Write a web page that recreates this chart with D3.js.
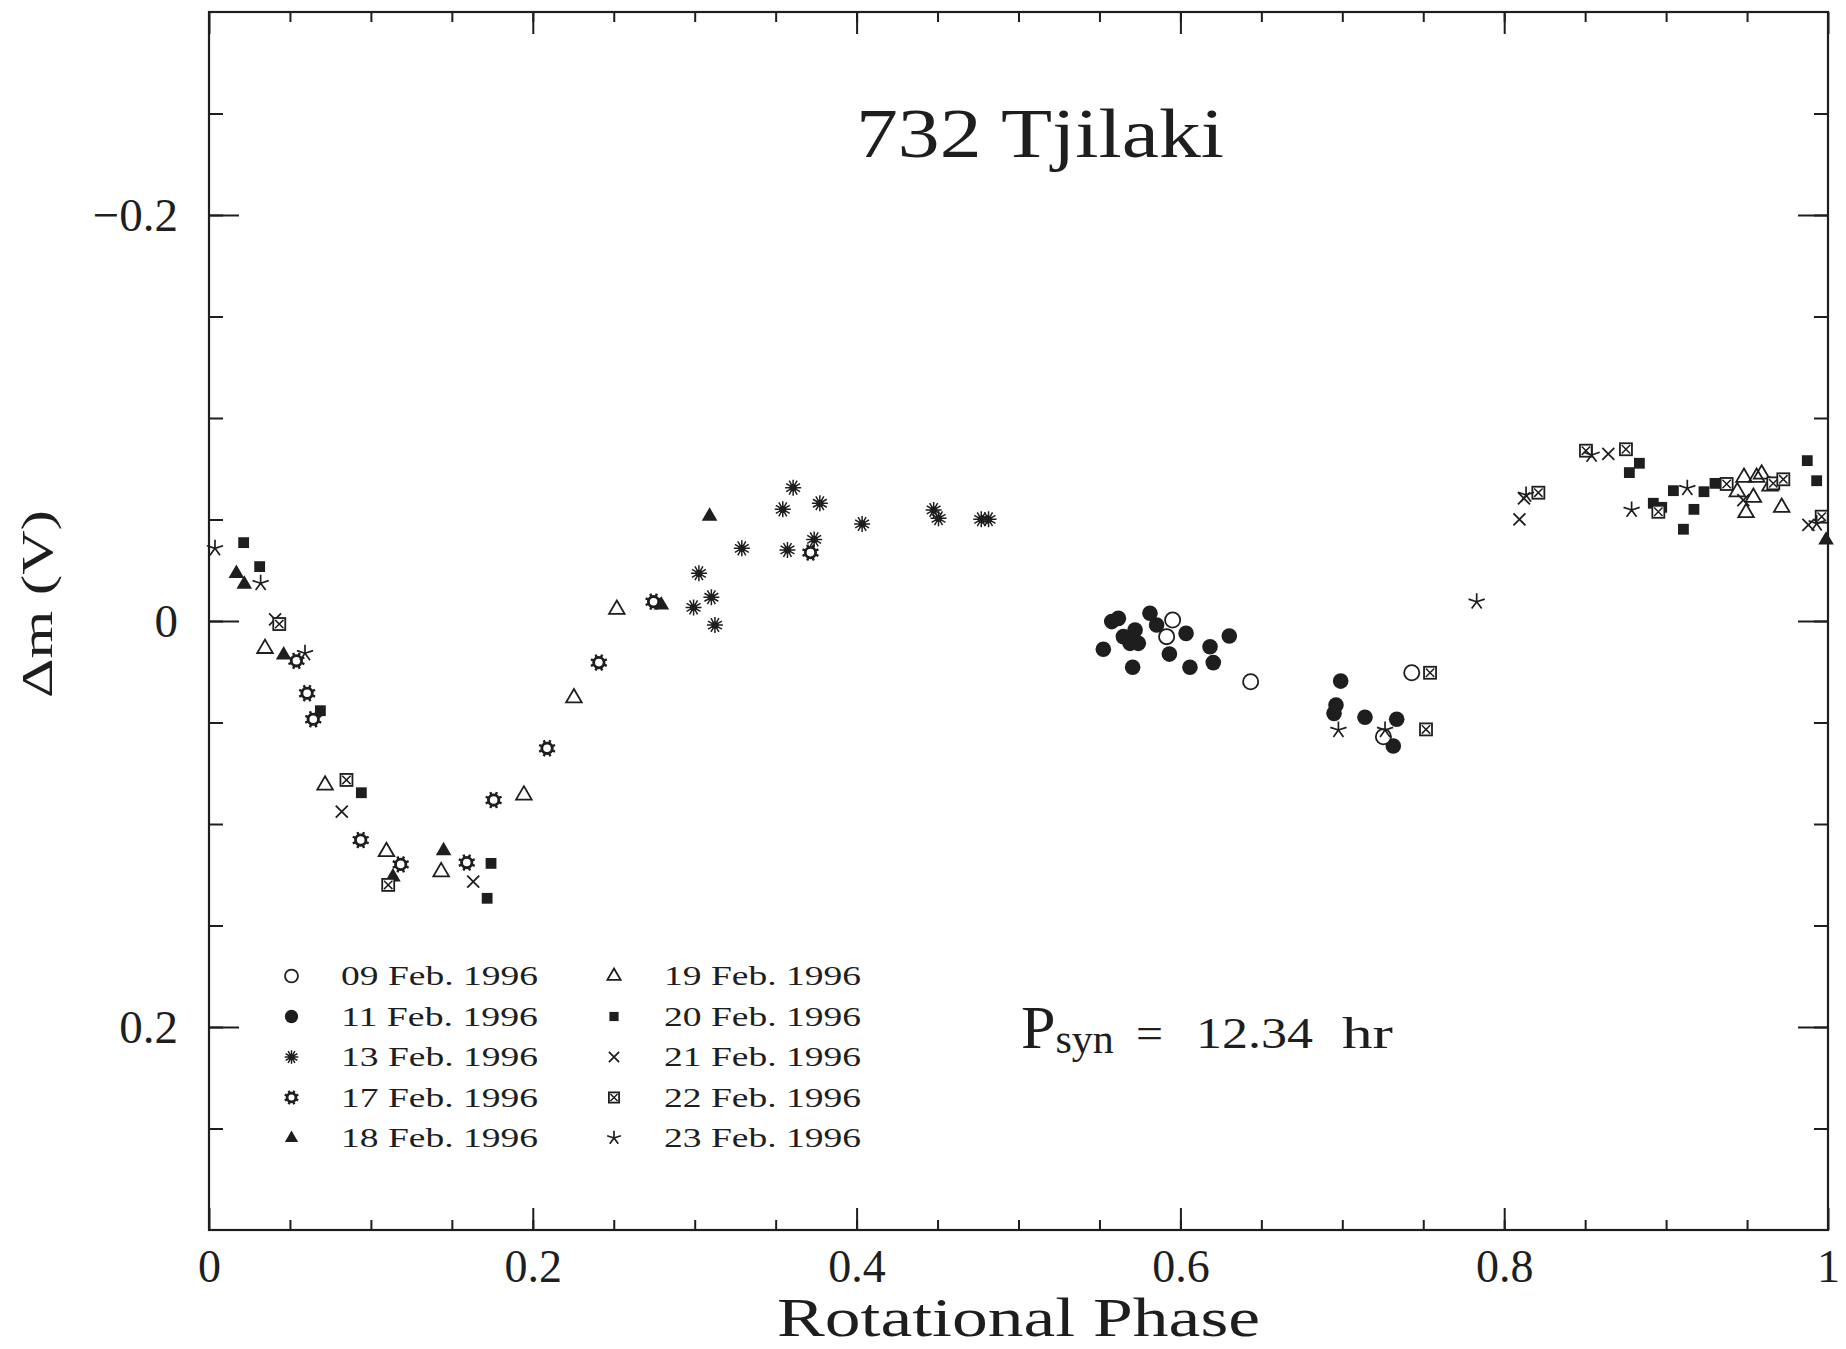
<!DOCTYPE html>
<html>
<head>
<meta charset="utf-8">
<script src="https://cdn.jsdelivr.net/npm/d3@7"></script>
<style>
  html, body { margin: 0; padding: 0; background: #fff; }
  svg { display: block; }
</style>
</head>
<body>
<svg id="chart" width="1846" height="1349"></svg>
<script>
// Lightcurve of asteroid 732 Tjilaki: [rotational phase, delta magnitude (V)] per night
const feb09 = [[0.5952,-0.0005],[0.5915,0.0077],[0.6434,0.0299],[0.7429,0.0255],[0.7254,0.0570]];
const feb11 = [[0.5576,0.0003],[0.5617,-0.0013],[0.5524,0.0139],[0.5648,0.0077],[0.5720,0.0044],
  [0.5689,0.0110],[0.5740,0.0110],[0.5705,0.0228],[0.5812,-0.0038],[0.5853,0.0020],[0.5932,0.0163],
  [0.6035,0.0061],[0.6059,0.0228],[0.6183,0.0127],[0.6203,0.0205],[0.6302,0.0074],[0.6990,0.0296],
  [0.6961,0.0414],[0.6949,0.0455],[0.7140,0.0474],[0.7336,0.0484],[0.7315,0.0616]];
const feb13 = [[0.3291,-0.0358],[0.3026,-0.0235],[0.3103,-0.0117],[0.2993,-0.0067],[0.3125,0.0020],
  [0.3608,-0.0657],[0.3544,-0.0550],[0.3773,-0.0580],[0.4034,-0.0478],[0.4476,-0.0547],[0.4506,-0.0506],
  [0.4770,-0.0501],[0.4815,-0.0501],[0.3573,-0.0350],[0.3738,-0.0402]];
const feb17 = [[0.0540,0.0196],[0.0606,0.0356],[0.0644,0.0484],[0.0937,0.1079],[0.1184,0.1199],
  [0.1592,0.1190],[0.1758,0.0882],[0.2088,0.0627],[0.2408,0.0205],[0.2746,-0.0095],[0.3715,-0.0337]];
const feb18 = [[0.0169,-0.0235],[0.0218,-0.0182],[0.0461,0.0167],[0.1136,0.1260],[0.1449,0.1131],
  [0.2794,-0.0079],[0.3092,-0.0517],[0.9988,-0.0399]];
const feb19 = [[0.0346,0.0135],[0.0717,0.0808],[0.1096,0.1136],[0.1434,0.1235],[0.1945,0.0857],
  [0.2254,0.0378],[0.2519,-0.0058],[0.9481,-0.0708],[0.9590,-0.0724],[0.9559,-0.0708],[0.9440,-0.0637],
  [0.9539,-0.0609],[0.9494,-0.0534],[0.9642,-0.0665],[0.9714,-0.0560]];
const feb20 = [[0.0214,-0.0386],[0.0313,-0.0268],[0.0688,0.0442],[0.0941,0.0846],[0.1742,0.1194],
  [0.1718,0.1366],[0.8835,-0.0777],[0.8773,-0.0731],[0.8921,-0.0580],[0.8973,-0.0560],[0.9045,-0.0642],
  [0.9172,-0.0550],[0.9107,-0.0452],[0.9234,-0.0637],[0.9302,-0.0678],[0.9872,-0.0790],[0.9930,-0.0691]];
const feb21 = [[0.0408,-0.0008],[0.0820,0.0939],[0.1632,0.1284],[0.8094,-0.0501],[0.8122,-0.0604],
  [0.8643,-0.0823],[0.9477,-0.0596],[0.9879,-0.0473]];
const feb22 = [[0.0434,0.0015],[0.0849,0.0783],[0.1107,0.1300],[0.7542,0.0255],[0.7517,0.0534],
  [0.8211,-0.0632],[0.8505,-0.0839],[0.8752,-0.0846],[0.8952,-0.0538],[0.9374,-0.0675],[0.9662,-0.0678],
  [0.9724,-0.0698],[0.9961,-0.0514]];
const feb23 = [[0.0037,-0.0358],[0.0319,-0.0186],[0.0593,0.0159],[0.6976,0.0537],[0.7264,0.0537],
  [0.7830,-0.0095],[0.8135,-0.0621],[0.8540,-0.0818],[0.8787,-0.0547],[0.9131,-0.0654],[0.9930,-0.0480]];

const nightLabels = ["09 Feb. 1996","11 Feb. 1996","13 Feb. 1996","17 Feb. 1996","18 Feb. 1996",
                     "19 Feb. 1996","20 Feb. 1996","21 Feb. 1996","22 Feb. 1996","23 Feb. 1996"];
const xMajorTicks = [0, 0.2, 0.4, 0.6, 0.8, 1];
const xTickLabels = ["0", "0.2", "0.4", "0.6", "0.8", "1"];
const yMajorTicks = [-0.2, 0, 0.2];
const yTickLabels = ["\u22120.2", "0", "0.2"];
const minorStep = 0.05;

const INK = "#1e1e1e";
const FONT = "'Liberation Serif', 'DejaVu Serif', serif";

const svg = d3.select("#chart");
svg.append("rect").attr("width", 1846).attr("height", 1349).attr("fill", "#fff");

const L = 209, R = 1828, T = 12, B = 1230;
const x = d3.scaleLinear().domain([0, 1]).range([L, R]);
const y = d3.scaleLinear().domain([-0.3, 0.3]).range([T, B]);

const xMinor = d3.range(1, 20).map(i => +(i * minorStep).toFixed(2));
const yMinor = d3.range(-5, 6).map(i => +(i * minorStep).toFixed(2));

function styleAxis(g) {
  g.select(".domain").remove();
  g.selectAll(".tick line").attr("stroke", INK).attr("stroke-width", 2);
  g.selectAll("text").attr("fill", INK).attr("font-family", FONT);
}

// minor ticks on all four sides
svg.append("g").attr("transform", `translate(0,${B})`)
  .call(d3.axisBottom(x).tickValues(xMinor).tickSize(-10).tickFormat("")).call(styleAxis);
svg.append("g").attr("transform", `translate(0,${T})`)
  .call(d3.axisTop(x).tickValues(xMinor).tickSize(-10).tickFormat("")).call(styleAxis);
svg.append("g").attr("transform", `translate(${L},0)`)
  .call(d3.axisLeft(y).tickValues(yMinor).tickSize(-14).tickFormat("")).call(styleAxis);
svg.append("g").attr("transform", `translate(${R},0)`)
  .call(d3.axisRight(y).tickValues(yMinor).tickSize(-14).tickFormat("")).call(styleAxis);

// major ticks with labels
svg.append("g").attr("transform", `translate(0,${B})`)
  .call(d3.axisBottom(x).tickValues(xMajorTicks).tickSize(-22).tickPadding(19)
    .tickFormat((d, i) => xTickLabels[i]))
  .call(styleAxis)
  .call(g => g.selectAll("text").attr("font-size", 46));
svg.append("g").attr("transform", `translate(0,${T})`)
  .call(d3.axisTop(x).tickValues(xMajorTicks).tickSize(-22).tickFormat("")).call(styleAxis);
svg.append("g").attr("transform", `translate(${L},0)`)
  .call(d3.axisLeft(y).tickValues(yMajorTicks).tickSize(-30).tickPadding(31)
    .tickFormat((d, i) => yTickLabels[i]))
  .call(styleAxis)
  .call(g => g.selectAll("text").attr("font-size", 47).attr("dy", "0.33em"));
svg.append("g").attr("transform", `translate(${R},0)`)
  .call(d3.axisRight(y).tickValues(yMajorTicks).tickSize(-30).tickFormat("")).call(styleAxis);

// frame
svg.append("rect").attr("x", L).attr("y", T).attr("width", R - L).attr("height", B - T)
  .attr("fill", "none").attr("stroke", INK).attr("stroke-width", 2.2);

// plotting symbols
function drawMark(g, kind, s) {
  const sw = 1.8;
  if (kind === "circleOpen") {
    g.append("circle").attr("r", 7.6 * s).attr("fill", "#fff").attr("stroke", INK).attr("stroke-width", sw);
  } else if (kind === "circleFilled") {
    g.append("circle").attr("r", 7.8 * s).attr("fill", INK);
  } else if (kind === "asterisk") {
    const n = 12, r = 8 * s;
    let p = "";
    for (let i = 0; i < n; i++) {
      const a = Math.PI * 2 * i / n;
      p += `M0,0L${(r * Math.cos(a)).toFixed(2)},${(r * Math.sin(a)).toFixed(2)}`;
    }
    g.append("path").attr("d", p).attr("stroke", INK).attr("stroke-width", 1.5);
    g.append("circle").attr("r", 3.6 * s).attr("fill", INK);
  } else if (kind === "sun") {
    const n = 8;
    let p = "";
    for (let i = 0; i < n; i++) {
      const a = Math.PI * 2 * i / n + Math.PI / 8;
      p += `M${(5.5 * s * Math.cos(a)).toFixed(2)},${(5.5 * s * Math.sin(a)).toFixed(2)}` +
           `L${(8.6 * s * Math.cos(a)).toFixed(2)},${(8.6 * s * Math.sin(a)).toFixed(2)}`;
    }
    g.append("path").attr("d", p).attr("stroke", INK).attr("stroke-width", 2.4);
    g.append("circle").attr("r", 5.2 * s).attr("fill", "#fff").attr("stroke", INK).attr("stroke-width", 2.8);
  } else if (kind === "triFilled" || kind === "triOpen") {
    const h = 8.8 * s, w = 7.8 * s, b = 4.6 * s;
    const path = g.append("path").attr("d", `M0,${-h}L${w},${b}L${-w},${b}Z`);
    if (kind === "triFilled") path.attr("fill", INK);
    else path.attr("fill", "none").attr("stroke", INK).attr("stroke-width", sw).attr("stroke-linejoin", "miter");
  } else if (kind === "squareFilled") {
    const a = 5.4 * s;
    g.append("rect").attr("x", -a).attr("y", -a).attr("width", 2 * a).attr("height", 2 * a).attr("fill", INK);
  } else if (kind === "cross") {
    const a = 6 * s;
    g.append("path").attr("d", `M${-a},${-a}L${a},${a}M${-a},${a}L${a},${-a}`)
      .attr("stroke", INK).attr("stroke-width", 1.8);
  } else if (kind === "boxCross") {
    const a = 6 * s;
    g.append("rect").attr("x", -a).attr("y", -a).attr("width", 2 * a).attr("height", 2 * a)
      .attr("fill", "#fff").attr("stroke", INK).attr("stroke-width", 1.8);
    const c = a * 0.7;
    g.append("path").attr("d", `M${-c},${-c}L${c},${c}M${-c},${c}L${c},${-c}`)
      .attr("stroke", INK).attr("stroke-width", 1.5);
  } else if (kind === "star5") {
    const r = 8.5 * s;
    let p = "";
    for (let i = 0; i < 5; i++) {
      const a = -Math.PI / 2 + i * 2 * Math.PI / 5;
      p += `M0,0L${(r * Math.cos(a)).toFixed(2)},${(r * Math.sin(a)).toFixed(2)}`;
    }
    g.append("path").attr("d", p).attr("stroke", INK).attr("stroke-width", 1.7);
  }
}

const nights = [
  { data: feb09, kind: "circleOpen" },
  { data: feb11, kind: "circleFilled" },
  { data: feb13, kind: "asterisk" },
  { data: feb17, kind: "sun" },
  { data: feb18, kind: "triFilled" },
  { data: feb19, kind: "triOpen" },
  { data: feb20, kind: "squareFilled" },
  { data: feb21, kind: "cross" },
  { data: feb22, kind: "boxCross" },
  { data: feb23, kind: "star5" }
];

// filled circles first so the open ones sit on top of them
const drawOrder = [1, 0, 2, 3, 4, 5, 6, 7, 8, 9];
const plot = svg.append("g");
drawOrder.forEach(k => {
  const n = nights[k];
  plot.append("g").selectAll("g").data(n.data).join("g")
    .attr("transform", d => `translate(${x(d[0])},${y(d[1])})`)
    .each(function () { drawMark(d3.select(this), n.kind, 1); });
});

// legend, two columns of five
const legend = svg.append("g");
nightLabels.forEach((label, i) => {
  const col = Math.floor(i / 5), row = i % 5;
  const symX = col === 0 ? 291.5 : 614;
  const txtX = col === 0 ? 341 : 664;
  const base = 985 + row * 40.5;
  const g = legend.append("g").attr("transform", `translate(${symX},${base - 9})`);
  drawMark(g, nights[i].kind, 0.85);
  legend.append("text").attr("x", txtX).attr("y", base)
    .attr("font-family", FONT).attr("font-size", 27).attr("fill", INK)
    .attr("textLength", 197).attr("lengthAdjust", "spacingAndGlyphs")
    .text(label);
});

// title
svg.append("text").attr("x", 856).attr("y", 157)
  .attr("font-family", FONT).attr("font-size", 70).attr("fill", INK)
  .attr("textLength", 368).attr("lengthAdjust", "spacingAndGlyphs")
  .text("732 Tjilaki");

// axis titles
svg.append("text").attr("x", 777).attr("y", 1336)
  .attr("font-family", FONT).attr("font-size", 54).attr("fill", INK)
  .attr("textLength", 483).attr("lengthAdjust", "spacingAndGlyphs")
  .text("Rotational Phase");
svg.append("text").attr("transform", "translate(52,698) rotate(-90)")
  .attr("font-family", FONT).attr("font-size", 44).attr("fill", INK)
  .attr("textLength", 188).attr("lengthAdjust", "spacingAndGlyphs")
  .text("\u0394m (V)");

// synodic period annotation
const per = svg.append("g").attr("font-family", FONT).attr("fill", INK);
const pText = per.append("text").attr("x", 1021).attr("y", 1048);
pText.append("tspan").attr("font-size", 62).text("P");
pText.append("tspan").attr("font-size", 42).attr("dy", 5).text("syn");
per.append("text").attr("x", 1136).attr("y", 1048).attr("font-size", 44)
  .attr("textLength", 27).attr("lengthAdjust", "spacingAndGlyphs").text("=");
per.append("text").attr("x", 1196).attr("y", 1048).attr("font-size", 44)
  .attr("textLength", 117).attr("lengthAdjust", "spacingAndGlyphs").text("12.34");
per.append("text").attr("x", 1342).attr("y", 1048).attr("font-size", 44)
  .attr("textLength", 51).attr("lengthAdjust", "spacingAndGlyphs").text("hr");
</script>
</body>
</html>
